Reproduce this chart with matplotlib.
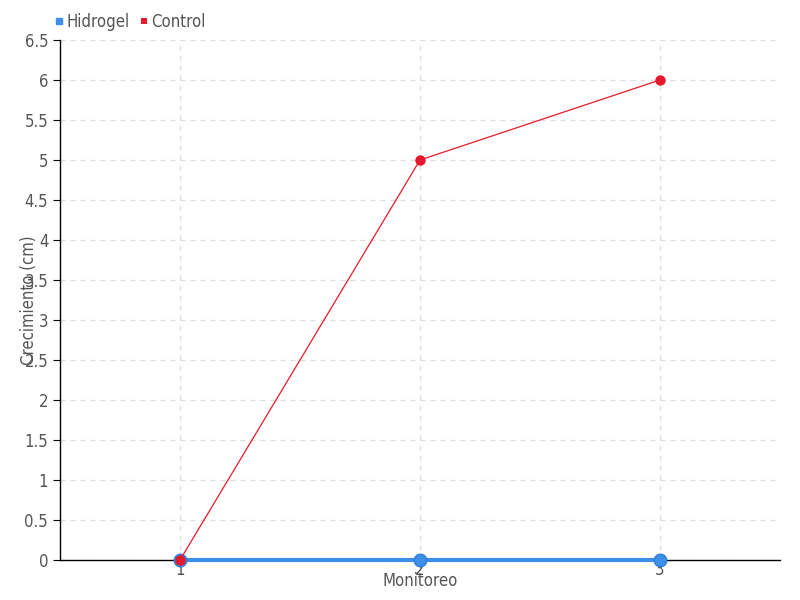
import matplotlib
matplotlib.use('Agg')
import matplotlib.pyplot as plt

# data
monitoreo = [1, 2, 3]
hidrogel = [0, 0, 0]
control = [0, 5, 6]
yticks = [0, 0.5, 1, 1.5, 2, 2.5, 3, 3.5, 4, 4.5, 5, 5.5, 6, 6.5]

plt.rcParams['font.family'] = ['DejaVu Sans']
plt.rcParams['font.stretch'] = 'condensed'

blue = '#3d8fe8'
red = '#e8182c'
txt = '#555555'

fig = plt.figure(figsize=(8, 6), dpi=100)
ax = fig.add_axes([60/800, 40/600, 720/800, 520/600])

ax.plot(monitoreo, hidrogel, color=blue, lw=3, marker='o', ms=9,
        markeredgecolor='#2f7fd8', zorder=3, clip_on=False, label='Hidrogel')
ax.plot(monitoreo, control, color=red, lw=0.9, marker='o', ms=7.5,
        markeredgewidth=0, zorder=4, clip_on=False, label='Control')

ax.set_xlim(0.5, 3.5)
ax.set_ylim(0, 6.5)
ax.set_xticks(monitoreo)
ax.set_yticks(yticks)
ax.set_yticklabels(['%g' % v for v in yticks])
ax.grid(True, ls=(0, (4, 4)), color='#dddddd', lw=0.9)
ax.set_axisbelow(True)

for s in ['top', 'right']:
    ax.spines[s].set_visible(False)
for s in ['left', 'bottom']:
    ax.spines[s].set_color('black')
    ax.spines[s].set_linewidth(1)
    ax.spines[s].set_zorder(2)

ax.tick_params(axis='both', colors='black', labelcolor=txt, labelsize=12, length=5)
ax.tick_params(axis='x', pad=-4.5)
ax.set_xlabel('Monitoreo', color=txt, fontsize=12, labelpad=-5)
ax.set_ylabel('Crecimiento (cm)', color=txt, fontsize=12)
ax.yaxis.set_label_coords(-22/720, 0.5)

leg = ax.legend(loc='lower left', bbox_to_anchor=(-0.02, 1.0), ncol=2, frameon=False,
                fontsize=12, handlelength=0.5, handletextpad=0.2, columnspacing=0.6,
                borderaxespad=0.15, labelcolor=txt)
for h, c in zip(leg.legend_handles, [blue, red]):
    h.set_linestyle('none')
    h.set_marker('s')
    h.set_markersize(5)
    h.set_markerfacecolor(c)
    h.set_markeredgecolor(c)

fig.savefig('out.png', dpi=100)
